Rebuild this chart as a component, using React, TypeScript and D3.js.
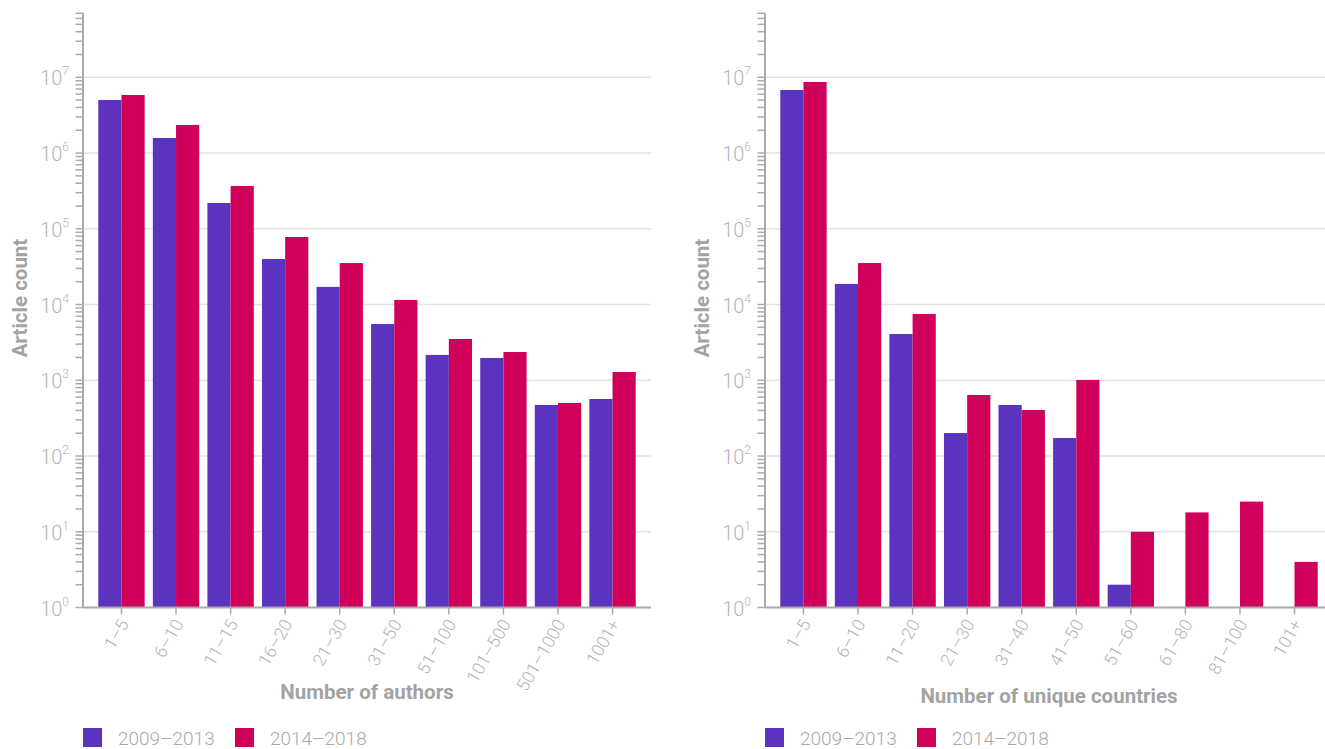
import React from "react";
import * as d3 from "d3";

const seriesNames = ["2009–2013", "2014–2018"];
const seriesColors = ["#5c33bf", "#d0005a"];

const authorCategories = ["1–5", "6–10", "11–15", "16–20", "21–30", "31–50", "51–100", "101–500", "501–1000", "1001+"];
const authors2009 = [5020000, 1580000, 219000, 39900, 17100, 5530, 2160, 1970, 472, 566];
const authors2014 = [5840000, 2350000, 367000, 78000, 35300, 11500, 3510, 2360, 501, 1286];

const countryCategories = ["1–5", "6–10", "11–20", "21–30", "31–40", "41–50", "51–60", "61–80", "81–100", "101+"];
const countries2009 = [6800000, 18700, 4080, 201, 472, 173, 2, 0, 0, 0];
const countries2014 = [8670000, 35300, 7500, 639, 405, 1009, 10, 18, 25, 4];

const decades = [0, 1, 2, 3, 4, 5, 6, 7];
const FONT = "Roboto, 'Open Sans', sans-serif";

type PanelProps = {
  x0: number;
  x1: number;
  categories: string[];
  a: number[];
  b: number[];
  xTitle: string;
  xTitleY: number;
};

function Panel({ x0, x1, categories, a, b, xTitle, xTitleY }: PanelProps) {
  const yBottom = 607.5;
  const y = d3.scaleLog().domain([1, 7e7]).range([yBottom, 13.3]);
  const x = d3.scaleBand<string>().domain(categories).range([x0, x1]).paddingInner(0.15).paddingOuter(0.28);
  const inner = d3.scaleBand<number>().domain([0, 1]).range([0, x.bandwidth()]);
  const minorTicks: number[] = [];
  for (let k = 0; k <= 7; k++) {
    for (let m = 1; m <= 9; m++) {
      const v = m * Math.pow(10, k);
      if (v <= 7e7) minorTicks.push(v);
    }
  }
  const series = [a, b];
  return (
    <g>
      {decades.slice(1).map((k) => (
        <line key={"g" + k} x1={x0} x2={x1} y1={y(Math.pow(10, k))} y2={y(Math.pow(10, k))} stroke="#e2e2e2" strokeWidth={1.5} />
      ))}
      {series.map((vals, si) =>
        vals.map((v, i) =>
          v > 0 ? (
            <rect
              key={si + "-" + i}
              x={(x(categories[i]) as number) + (inner(si) as number)}
              y={y(v)}
              width={inner.bandwidth()}
              height={yBottom - y(v)}
              fill={seriesColors[si]}
            />
          ) : null
        )
      )}
      {/* y axis */}
      <line x1={x0} x2={x0} y1={y(7e7)} y2={yBottom} stroke="#aaa" strokeWidth={2} />
      {minorTicks.map((v, i) => (
        <line key={"t" + i} x1={x0 - 7.5} x2={x0} y1={y(v)} y2={y(v)} stroke="#aaa" strokeWidth={1.5} />
      ))}
      {decades.map((k) => (
        <text key={"l" + k} x={x0 - 14} y={y(Math.pow(10, k)) + 8} textAnchor="end" fontFamily={FONT} fontWeight={300} fontSize={20} fill="#b5b5b5">
          10
          <tspan fontSize={12} dy={-10}>{k}</tspan>
        </text>
      ))}
      <text
        transform={`translate(${x0 - 56},${298}) rotate(-90)`}
        textAnchor="middle"
        fontFamily={FONT}
        fontWeight={700}
        fontSize={20.5}
        fill="#a3a3a3"
      >
        Article count
      </text>
      {/* x axis */}
      <line x1={x0} x2={x1} y1={yBottom} y2={yBottom} stroke="#aaa" strokeWidth={2} />
      {categories.map((c) => {
        const cx = (x(c) as number) + x.bandwidth() / 2;
        return (
          <g key={c}>
            <line x1={cx} x2={cx} y1={yBottom} y2={yBottom + 7} stroke="#aaa" strokeWidth={1.5} />
            <text
              transform={`translate(${cx + 4},${yBottom + 14}) rotate(-60)`}
              textAnchor="end"
              dominantBaseline="middle"
              fontFamily={FONT}
              fontWeight={300}
              fontSize={17.5}
              fill="#b5b5b5"
            >
              {c}
            </text>
          </g>
        );
      })}
      <text x={(x0 + x1) / 2} y={xTitleY} textAnchor="middle" fontFamily={FONT} fontWeight={700} fontSize={20.5} fill="#a3a3a3">
        {xTitle}
      </text>
      {/* legend */}
      {seriesNames.map((n, i) => (
        <g key={n} transform={`translate(${x0 + i * 152},728)`}>
          <rect x={0} y={0} width={19} height={19} fill={seriesColors[i]} />
          <text x={35} y={17} fontFamily={FONT} fontWeight={300} fontSize={19} fill="#a8a8a8">
            {n}
          </text>
        </g>
      ))}
    </g>
  );
}

export default function App() {
  return (
    <svg width={1325} height={749} style={{ position: "absolute", left: 0, top: 0, background: "#fff" }}>
      <Panel x0={83} x1={651} categories={authorCategories} a={authors2009} b={authors2014} xTitle="Number of authors" xTitleY={699} />
      <Panel x0={765} x1={1333} categories={countryCategories} a={countries2009} b={countries2014} xTitle="Number of unique countries" xTitleY={703} />
    </svg>
  );
}
